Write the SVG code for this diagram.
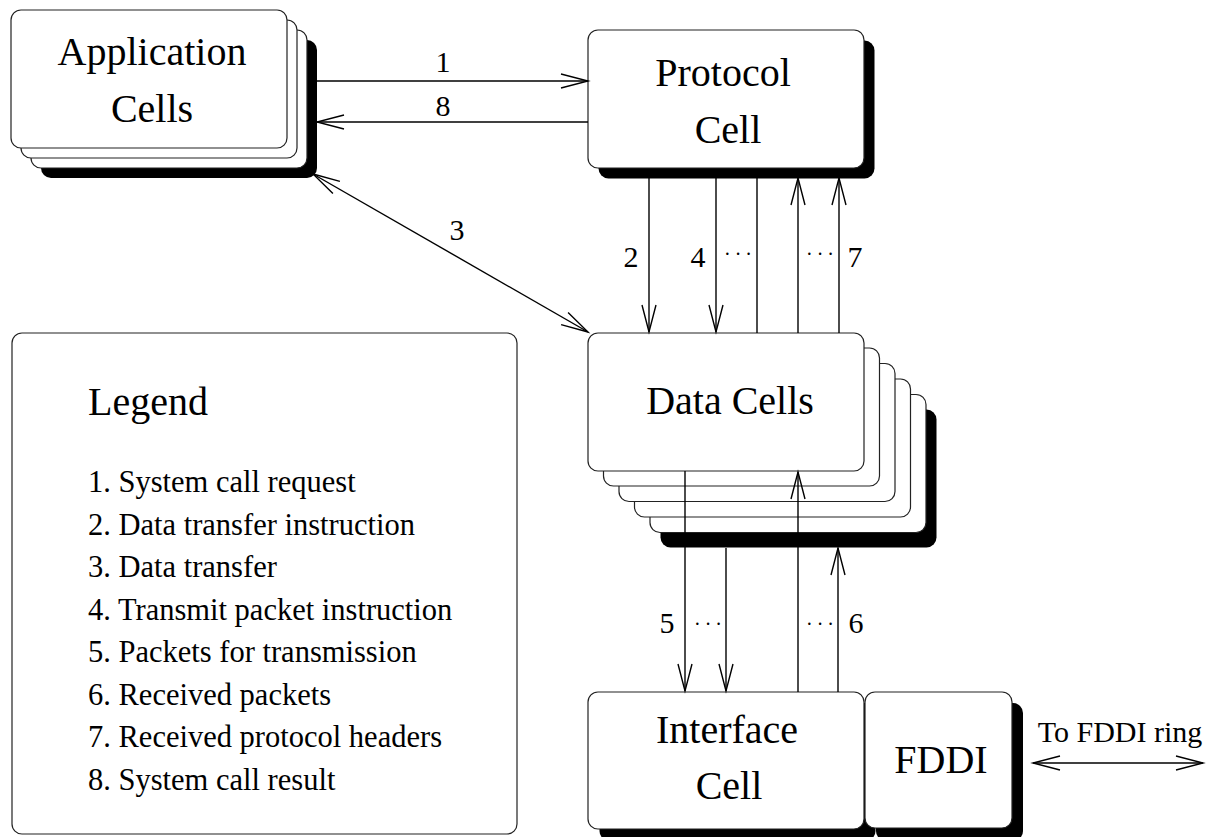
<svg xmlns="http://www.w3.org/2000/svg" width="1212" height="837" viewBox="0 0 1212 837">
  <defs>
    <style>
      .box { fill: #fff; stroke: #222; stroke-width: 1.2; }
      .shadow { fill: #000; }
      text { font-family: "Liberation Serif", "Times New Roman", serif; fill: #000; }
      .lbl { font-size: 40px; text-anchor: middle; }
      .num { font-size: 30px; text-anchor: middle; }
      .dots { font-size: 20px; text-anchor: middle; letter-spacing: 4px; }
      .leg { font-size: 30.5px; }
      .conn line { stroke: #000; stroke-width: 1.4; fill: none; }
      .arr { marker-end: url(#ah); }
      .both { marker-start: url(#ah); marker-end: url(#ah); }
    </style>
    <marker id="ah" viewBox="-29 -9 31 18" refX="0" refY="0" markerWidth="31" markerHeight="18"
            markerUnits="userSpaceOnUse" orient="auto-start-reverse" overflow="visible">
      <path d="M-27,-7 L0,0 L-27,7" fill="none" stroke="#000" stroke-width="1.4"/>
    </marker>
  </defs>

  <rect width="1212" height="837" fill="#fff"/>

  <!-- Application cells: stacked cards with drop shadow -->
  <g id="application-cells">
    <rect class="shadow" x="41" y="40" width="276" height="138" rx="10"/>
    <rect class="box" x="31" y="30" width="276" height="138" rx="10"/>
    <rect class="box" x="21" y="20" width="276" height="138" rx="10"/>
    <rect class="box" x="11" y="10" width="276" height="138" rx="10"/>
    <text class="lbl" x="152" y="65">Application</text>
    <text class="lbl" x="152" y="122">Cells</text>
  </g>

  <!-- Protocol cell -->
  <g id="protocol-cell">
    <rect class="shadow" x="598.5" y="40.5" width="276" height="138" rx="10"/>
    <rect class="box" x="588" y="30" width="276" height="138" rx="10"/>
    <text class="lbl" x="723" y="86">Protocol</text>
    <text class="lbl" x="728" y="143">Cell</text>
  </g>

  <!-- Data cells: five stacked cards -->
  <g id="data-cells">
    <rect class="shadow" x="660.5" y="409.5" width="276" height="138" rx="10"/>
    <rect class="box" x="650" y="394.5" width="276" height="138" rx="10"/>
    <rect class="box" x="634.5" y="379" width="276" height="138" rx="10"/>
    <rect class="box" x="619" y="363.5" width="276" height="138" rx="10"/>
    <rect class="box" x="603.5" y="348" width="276" height="138" rx="10"/>
    <rect class="box" x="588" y="333" width="276" height="138" rx="10"/>
    <text class="lbl" x="730" y="414">Data Cells</text>
  </g>

  <!-- Interface cell -->
  <g id="interface-cell">
    <rect class="shadow" x="599.5" y="703" width="276" height="138" rx="10"/>
    <rect class="box" x="588" y="692" width="276" height="137" rx="10"/>
    <text class="lbl" x="727" y="743">Interface</text>
    <text class="lbl" x="729" y="799">Cell</text>
  </g>

  <!-- FDDI adapter -->
  <g id="fddi">
    <rect class="shadow" x="876" y="703" width="147" height="138" rx="10"/>
    <rect class="box" x="865" y="692" width="147" height="136" rx="10"/>
    <text class="lbl" x="941" y="773">FDDI</text>
  </g>

  <!-- Legend panel -->
  <g id="legend">
    <rect class="box" x="12" y="333" width="505" height="501" rx="10"/>
    <text class="lbl" x="88" y="415" style="text-anchor:start">Legend</text>
    <text class="leg" x="88" y="492">1. System call request</text>
    <text class="leg" x="88" y="534.6">2. Data transfer instruction</text>
    <text class="leg" x="88" y="577.1">3. Data transfer</text>
    <text class="leg" x="88" y="619.7">4. Transmit packet instruction</text>
    <text class="leg" x="88" y="662.3">5. Packets for transmission</text>
    <text class="leg" x="88" y="704.9">6. Received packets</text>
    <text class="leg" x="88" y="747.4">7. Received protocol headers</text>
    <text class="leg" x="88" y="790">8. System call result</text>
  </g>

  <!-- Message paths between cells -->
  <g id="connectors" class="conn">
    <line class="arr" x1="317" y1="81" x2="588" y2="81"/>
    <line class="arr" x1="588" y1="122" x2="317" y2="122"/>
    <line class="both" x1="313" y1="174" x2="588" y2="332"/>

    <line class="arr" x1="649" y1="178" x2="649" y2="332"/>
    <line class="arr" x1="716" y1="178" x2="716" y2="332"/>
    <line x1="757" y1="178" x2="757" y2="333"/>
    <line class="arr" x1="798" y1="333" x2="798" y2="178"/>
    <line class="arr" x1="839" y1="333" x2="839" y2="178"/>

    <line class="arr" x1="685" y1="471" x2="685" y2="691"/>
    <line class="arr" x1="726" y1="548" x2="726" y2="691"/>
    <line class="arr" x1="798" y1="692" x2="798" y2="472"/>
    <line class="arr" x1="838" y1="692" x2="838" y2="548"/>

    <line class="both" x1="1033" y1="763" x2="1203" y2="763"/>

    <text class="num" x="443" y="72">1</text>
    <text class="num" x="443" y="116">8</text>
    <text class="num" x="457" y="240">3</text>
    <text class="num" x="631" y="267">2</text>
    <text class="num" x="698" y="267">4</text>
    <text class="dots" x="740" y="261">···</text>
    <text class="dots" x="822" y="261">···</text>
    <text class="num" x="855" y="267">7</text>
    <text class="num" x="667" y="633">5</text>
    <text class="dots" x="710" y="631">···</text>
    <text class="dots" x="822" y="631">···</text>
    <text class="num" x="856" y="633">6</text>
    <text class="num" x="1120" y="742" style="font-size:30px">To FDDI ring</text>
  </g>
</svg>
